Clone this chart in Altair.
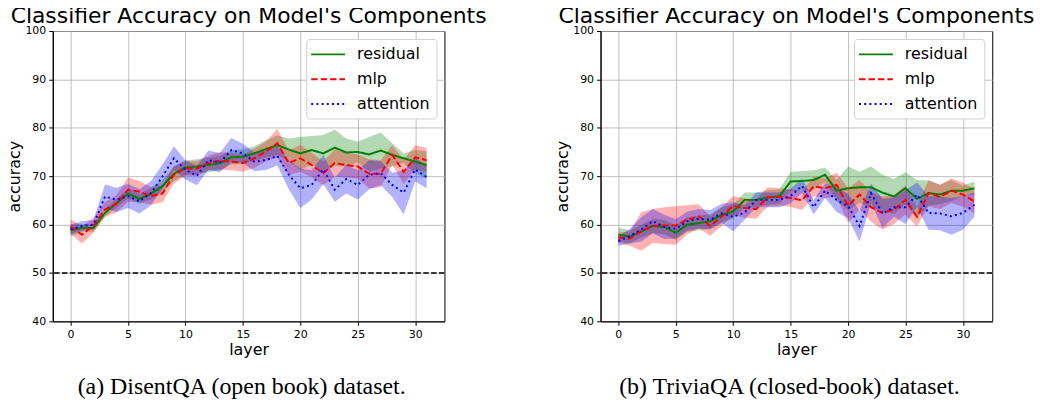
import altair as alt
import pandas as pd

layers = list(range(32))
series_names = ["residual", "mlp", "attention"]
colors = ["green", "red", "blue"]
dashes = [[1, 0], [6.5, 3], [2, 3.2]]
# band scale listed in another order (same colour per series)
band_names = ["attention", "mlp", "residual"]
band_colors = ["blue", "red", "green"]

# (a) DisentQA (open book)
disent_residual = [58.8, 59.3, 59.3, 62.4, 64.4, 66.4, 65.3, 66.4, 67.9, 70.5, 71.8, 72.0, 72.3, 72.7, 73.9, 74.0,
                   74.7, 75.6, 76.4, 75.5, 74.7, 75.4, 74.7, 75.9, 74.9, 75.0, 74.5, 75.3, 74.4, 73.7, 73.0, 72.3]
disent_residual_std = [1.2, 0.8, 0.8, 0.8, 0.9, 1.0, 1.0, 1.2, 1.3, 1.5, 1.5, 1.5, 1.5, 1.5, 1.5, 1.5,
                       1.5, 1.8, 2.0, 2.3, 3.4, 2.9, 3.8, 3.7, 2.9, 2.1, 3.6, 3.7, 2.4, 1.0, 2.4, 2.8]
disent_mlp = [59.6, 57.9, 59.8, 63.1, 64.3, 67.2, 66.8, 65.9, 66.4, 70.3, 71.6, 71.6, 72.7, 73.2, 73.0, 72.7,
              73.7, 75.1, 76.8, 72.7, 73.7, 72.3, 70.6, 72.7, 72.3, 72.0, 70.5, 70.5, 74.4, 70.9, 73.9, 73.3]
disent_mlp_std = [1.5, 1.8, 1.5, 1.5, 1.8, 2.5, 2.2, 1.8, 1.8, 1.8, 1.5, 1.5, 1.5, 1.8, 1.8, 1.8,
                  2.0, 2.0, 3.0, 2.5, 2.8, 2.5, 2.5, 2.8, 2.5, 2.5, 3.0, 2.8, 2.0, 2.5, 2.5, 2.5]
disent_attention = [59.0, 59.7, 60.0, 65.8, 65.1, 65.9, 64.8, 66.5, 69.9, 73.7, 71.3, 70.1, 73.3, 72.8, 75.4, 74.7,
                    73.0, 73.3, 74.2, 70.3, 67.5, 68.2, 71.4, 67.2, 69.4, 68.2, 70.3, 70.6, 68.2, 66.6, 71.4, 69.8]
disent_attention_std = [1.0, 1.0, 1.0, 2.5, 2.5, 2.5, 2.5, 2.5, 2.5, 2.5, 2.0, 2.0, 2.0, 2.0, 2.5, 2.0,
                        2.0, 2.0, 2.0, 3.0, 4.1, 3.0, 3.0, 2.5, 3.0, 3.0, 3.0, 2.5, 2.5, 4.5, 2.5, 2.3]

# (b) TriviaQA (closed-book)
trivia_residual = [57.9, 57.5, 58.6, 59.7, 59.5, 58.3, 60.0, 60.3, 60.7, 62.0, 62.7, 65.1, 65.1, 65.6, 65.8, 68.9,
                   69.0, 69.2, 70.3, 67.0, 67.5, 67.7, 67.7, 66.6, 65.8, 67.5, 65.3, 66.5, 66.2, 67.0, 67.0, 67.5]
trivia_residual_std = [1.5, 1.3, 1.3, 1.5, 1.5, 1.5, 1.5, 1.5, 1.5, 1.5, 1.5, 1.5, 1.5, 1.5, 1.5, 2.0,
                       2.0, 2.0, 1.5, 2.2, 4.5, 3.2, 4.3, 3.7, 3.6, 3.3, 3.9, 2.6, 2.0, 2.2, 1.0, 1.4]
trivia_mlp = [57.3, 57.1, 58.6, 59.7, 59.8, 59.8, 61.0, 61.7, 59.7, 61.7, 63.9, 63.4, 63.2, 65.7, 65.7, 65.5,
              65.0, 67.9, 67.5, 68.2, 63.9, 66.2, 63.6, 62.4, 63.1, 65.1, 61.6, 66.5, 65.7, 67.0, 66.2, 64.8]
trivia_mlp_std = [1.0, 1.5, 4.0, 3.5, 3.8, 4.0, 3.0, 2.5, 2.0, 2.0, 2.0, 2.0, 2.0, 2.0, 1.8, 1.8,
                  2.0, 2.0, 2.0, 2.5, 3.6, 3.0, 3.0, 3.4, 3.0, 3.0, 2.0, 2.7, 2.5, 2.5, 2.5, 2.5]
trivia_attention = [56.6, 57.6, 59.0, 60.7, 59.5, 59.1, 60.7, 61.2, 61.0, 62.3, 61.6, 62.5, 65.1, 65.1, 65.1, 65.9,
                    68.0, 63.6, 67.0, 65.1, 63.8, 59.7, 66.5, 62.3, 63.6, 63.6, 66.2, 62.4, 62.3, 61.7, 62.4, 64.1]
trivia_attention_std = [1.0, 1.5, 2.5, 2.5, 2.5, 2.0, 2.0, 2.0, 2.0, 2.0, 3.0, 1.5, 1.5, 1.5, 1.5, 1.5,
                        1.5, 1.5, 1.5, 2.5, 2.5, 3.2, 2.0, 3.0, 2.0, 3.5, 2.5, 3.5, 3.5, 3.8, 3.5, 2.5]

chart_title = "Classifier Accuracy on Model's Components"
captions = ["(a) DisentQA (open book) dataset.", "(b) TriviaQA (closed-book) dataset."]
x_ticks = [0, 5, 10, 15, 20, 25, 30]
y_ticks = [40, 50, 60, 70, 80, 90, 100]
chance_level = [50]


def make_df(means, stds):
    rows = []
    for name, m, s in zip(series_names, means, stds):
        for k, mv, sv in zip(layers, m, s):
            rows.append({"layer": k, "series": name, "acc": mv, "lo": mv - sv, "hi": mv + sv})
    return pd.DataFrame(rows)


def panel(df, caption):
    x = alt.X("layer:Q", scale=alt.Scale(domain=[-1.55, 32.55], nice=False, zero=False),
              axis=alt.Axis(values=x_ticks, title="layer"))
    yscale = alt.Scale(domain=[40, 100], nice=False, zero=False)
    base = alt.Chart(df)
    bands = base.mark_area(opacity=0.3, strokeWidth=0).encode(
        x=x,
        y=alt.Y("lo:Q", scale=yscale, axis=alt.Axis(values=y_ticks, title="accuracy")),
        y2="hi:Q",
        fill=alt.Fill("series:N", scale=alt.Scale(domain=band_names, range=band_colors), legend=None),
        detail="series:N",
    )
    lines = base.mark_line(strokeWidth=2).encode(
        x=x,
        y=alt.Y("acc:Q", scale=yscale),
        color=alt.Color("series:N", scale=alt.Scale(domain=series_names, range=colors),
                        legend=alt.Legend(title=None, orient="top-right", offset=8, fillColor="white",
                                          strokeColor="#d0d0d0", cornerRadius=3, padding=6.5,
                                          labelFontSize=16, labelFont="DejaVu Sans", labelColor="black",
                                          symbolType="M-2.125,0H2.125", symbolSize=256,
                                          symbolStrokeWidth=2, symbolOffset=6.5,
                                          labelOffset=20, rowPadding=8)),
        strokeDash=alt.StrokeDash("series:N", scale=alt.Scale(domain=series_names, range=dashes)),
    )
    rule = alt.Chart(pd.DataFrame({"acc": chance_level})).mark_rule(
        color="black", strokeDash=[5.5, 2.4], strokeWidth=1.5
    ).encode(y=alt.Y("acc:Q", scale=yscale))
    cap = alt.Chart(pd.DataFrame({"caption": [caption]})).mark_text(
        font="Liberation Serif", fontSize=24, align="center", baseline="alphabetic", color="black"
    ).encode(text="caption:N", x=alt.value(190), y=alt.value(365))
    return alt.layer(bands, lines, rule, cap).properties(
        width=394, height=292,
        title=alt.TitleParams(chart_title, fontSize=22, font="DejaVu Sans", fontWeight="normal",
                              anchor="middle", frame="group", offset=-3, color="black"),
    )


left = panel(make_df([disent_residual, disent_mlp, disent_attention],
                     [disent_residual_std, disent_mlp_std, disent_attention_std]), captions[0])
right = panel(make_df([trivia_residual, trivia_mlp, trivia_attention],
                      [trivia_residual_std, trivia_mlp_std, trivia_attention_std]), captions[1])

chart = alt.hconcat(left, right, spacing=157, bounds="flush").resolve_scale(
    color="independent", strokeDash="independent", fill="independent"
).properties(
    padding={"left": -2, "top": -5, "right": 0, "bottom": 0}
).configure_view(stroke="black", strokeWidth=1).configure_axis(
    labelFont="DejaVu Sans", labelFontSize=11, labelColor="black",
    titleFont="DejaVu Sans", titleFontSize=16, titleFontWeight="normal", titleColor="black",
    domainColor="black", tickColor="black", tickSize=4, labelPadding=3, titlePadding=2,
    gridColor="#b0b0b0", gridWidth=0.8,
)

chart.save("out.html", embed_options={"renderer": "svg", "actions": False})
